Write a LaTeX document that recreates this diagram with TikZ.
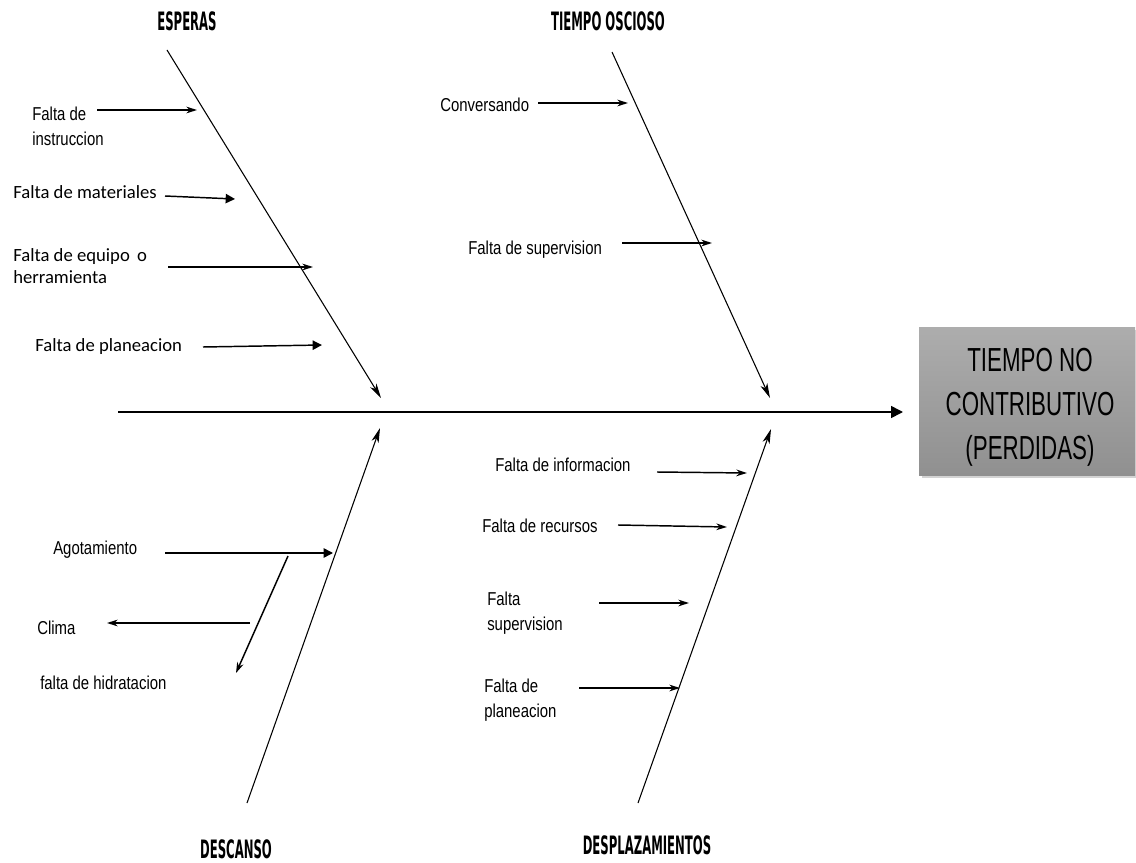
\documentclass[tikz,border=0pt]{standalone}
\usepackage{fontspec}
\setmainfont{Liberation Sans}
\newfontfamily\narf{Liberation Sans}[FakeStretch=0.8]
\newfontfamily\calf{Carlito}
\newfontfamily\headf{DejaVu Sans}[FakeStretch=0.46]
\newfontfamily\boxf{Liberation Sans}[FakeStretch=0.67]
\usetikzlibrary{arrows.meta,shadows}
\definecolor{boxtop}{HTML}{ADADAD}
\definecolor{boxbot}{HTML}{909090}
\tikzset{
  bone/.style={line width=0.8pt,-{Stealth[length=11pt,width=5.5pt,inset=3pt]}},
  subthin/.style={line width=1.1pt,-{Stealth[length=8pt,width=5pt,inset=2.5pt]}},
  subfill/.style={line width=1.1pt,-{Triangle[length=7pt,width=7pt]}},
  spine/.style={line width=1.2pt,-{Triangle[length=9pt,width=9pt]}},
  lab/.style={font=\narf\fontsize{14}{19}\selectfont,inner sep=0pt,anchor=west,align=left},
  clab/.style={font=\calf\fontsize{14}{17}\selectfont,inner sep=0pt,anchor=west,align=left},
  head/.style={font=\headf\bfseries\fontsize{19}{20}\selectfont,inner sep=0pt},
  effect/.style={top color=boxtop,bottom color=boxbot,draw=none,
    drop shadow={opacity=0.35,shadow xshift=2pt,shadow yshift=-2pt},inner sep=0pt},
  efftext/.style={font=\boxf\fontsize{25}{33}\selectfont,align=center,inner sep=0pt},
}
\begin{document}
\begin{tikzpicture}[x=0.75pt,y=-0.75pt]
\useasboundingbox (0,0) rectangle (1136,863);
% effect box
\node[effect,minimum width=162pt,minimum height=111pt] (box) at (1027,401) {};
\node[efftext] (boxt) at (1030,407) {TIEMPO NO\\CONTRIBUTIVO\\(PERDIDAS)};
% spine
\coordinate (spA) at (118,412);
\coordinate (spB) at (903,412);
\draw[spine] (spA) -- (spB);
% headings
\node[head] (hEsp) at (187,21) {ESPERAS};
\node[head] (hTie) at (608,21) {TIEMPO OSCIOSO};
\node[head] (hDes) at (236,849) {DESCANSO};
\node[head] (hDpl) at (647,845) {DESPLAZAMIENTOS};
% bones
\coordinate (b1s) at (167,50);  \coordinate (b1e) at (381,398);
\coordinate (b2s) at (612,52);  \coordinate (b2e) at (770,398);
\coordinate (b3s) at (247,803); \coordinate (b3e) at (380,428);
\coordinate (b4s) at (638,803); \coordinate (b4e) at (771,429);
\draw[bone] (b1s) -- (b1e);
\draw[bone] (b2s) -- (b2e);
\draw[bone] (b3s) -- (b3e);
\draw[bone] (b4s) -- (b4e);
% ESPERAS causes
\node[lab] (instr) at (32,126) {Falta de\\instruccion};
\node[clab] (mat) at (13,192) {Falta de materiales};
\node[clab] (equip) at (13,266) {Falta de equipo\, o\\herramienta};
\node[clab] (plan) at (35,347) {Falta de planeacion};
\coordinate (a1s) at (97,110);  \coordinate (a1e) at (197,110);
\coordinate (a2s) at (165,196); \coordinate (a2e) at (235,199);
\coordinate (a3s) at (168,267); \coordinate (a3e) at (313,267);
\coordinate (a4s) at (203,347); \coordinate (a4e) at (322,345);
\draw[subthin] (a1s) -- (a1e);
\draw[subfill] (a2s) -- (a2e);
\draw[subthin] (a3s) -- (a3e);
\draw[subfill] (a4s) -- (a4e);
% TIEMPO OSCIOSO causes
\node[lab] (conv) at (440,105) {Conversando};
\node[lab] (sup) at (468,250) {Falta de supervision};
\coordinate (c1s) at (538,103); \coordinate (c1e) at (628,103);
\coordinate (c2s) at (622,243); \coordinate (c2e) at (712,243);
\draw[subthin] (c1s) -- (c1e);
\draw[subthin] (c2s) -- (c2e);
% DESCANSO causes
\node[lab] (agot) at (53,550) {Agotamiento};
\node[lab] (clima) at (37,628) {Clima};
\node[lab] (hidr) at (40,683) {falta de hidratacion};
\coordinate (d1s) at (165,553); \coordinate (d1e) at (333,553);
\coordinate (d2s) at (288,556); \coordinate (d2e) at (236,673);
\coordinate (d3s) at (250,623); \coordinate (d3e) at (107,623);
\draw[subfill] (d1s) -- (d1e);
\draw[subthin] (d2s) -- (d2e);
\draw[subthin] (d3s) -- (d3e);
% DESPLAZAMIENTOS causes
\node[lab] (info) at (495,465) {Falta de informacion};
\node[lab] (recur) at (482,526) {Falta de recursos};
\node[lab] (fsup) at (487,613) {Falta\\supervision};
\node[lab] (fplan) at (484,700) {Falta de\\planeacion};
\coordinate (e1s) at (657,472); \coordinate (e1e) at (747,473);
\coordinate (e2s) at (618,525); \coordinate (e2e) at (727,527);
\coordinate (e3s) at (599,603); \coordinate (e3e) at (689,603);
\coordinate (e4s) at (579,688); \coordinate (e4e) at (680,688);
\draw[subthin] (e1s) -- (e1e);
\draw[subthin] (e2s) -- (e2e);
\draw[subthin] (e3s) -- (e3e);
\draw[subthin] (e4s) -- (e4e);
\end{tikzpicture}
\end{document}
